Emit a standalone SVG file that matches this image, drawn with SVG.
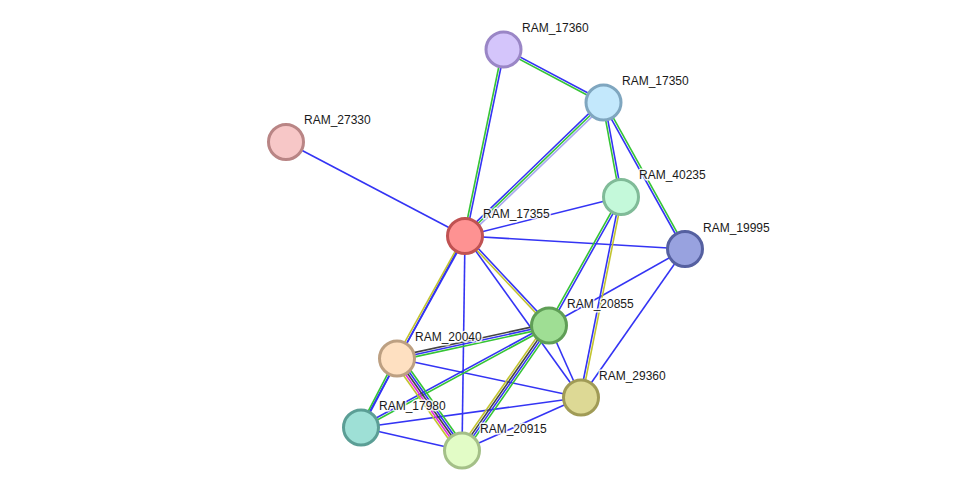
<svg xmlns="http://www.w3.org/2000/svg" width="975" height="496" viewBox="0 0 975 496">
<style>
line{stroke-width:1.6;fill:none}
.b{stroke:#3434f4}
.g{stroke:#35c435}
.o{stroke:#c2c42e}
.k{stroke:#444444}
.m{stroke:#e02ce0}
.l{stroke:#a8a8f0}
.n{stroke-width:3}
text{font-family:"Liberation Sans",Arial,sans-serif;font-size:12px;fill:#1a1a1a;stroke:#ffffff;stroke-width:3;stroke-opacity:0.85;paint-order:stroke;stroke-linejoin:round}
</style>
<rect width="975" height="496" fill="#ffffff"/>
<g id="connectors">
  <!-- single blue edges -->
  <line class="b" x1="286" y1="142" x2="465" y2="236"/>
  <line class="b" x1="465" y1="236" x2="621" y2="197"/>
  <line class="b" x1="465" y1="236" x2="685" y2="249"/>
  <line class="b" x1="465" y1="236" x2="462" y2="450.5"/>
  <line class="b" x1="465" y1="236" x2="581" y2="397.5"/>
  <line class="b" x1="465" y1="236" x2="361" y2="427.5"/>
  <line class="b" x1="685" y1="249" x2="549" y2="325.5"/>
  <line class="b" x1="685" y1="249" x2="581" y2="397.5"/>
  <line class="b" x1="549" y1="325.5" x2="581" y2="397.5"/>
  <line class="b" x1="397" y1="358.5" x2="581" y2="397.5"/>
  <line class="b" x1="361" y1="427.5" x2="581" y2="397.5"/>
  <line class="b" x1="361" y1="427.5" x2="462" y2="450.5"/>
  <line class="b" x1="462" y1="450.5" x2="581" y2="397.5"/>
  <!-- 17360-17350 -->
  <g transform="translate(503.5,49.5) rotate(27.92)">
    <line class="b" x2="113.2" y1="-1.1" y2="-1.1"/>
    <line class="g" x2="113.2" y1="1.1" y2="1.1"/>
  </g>
  <!-- 17360-17355 -->
  <g transform="translate(503.5,49.5) rotate(101.66)">
    <line class="b" x2="190.4" y1="-1.1" y2="-1.1"/>
    <line class="g" x2="190.4" y1="1.1" y2="1.1"/>
  </g>
  <!-- 17350-17355 -->
  <g transform="translate(603.5,102.5) rotate(136.05)">
    <line class="b" x2="192.4" y1="2.2" y2="2.2"/>
    <line class="g" x2="192.4" y1="0" y2="0"/>
    <line class="l" x2="192.4" y1="-2.2" y2="-2.2"/>
  </g>
  <!-- 17350-40235 -->
  <g transform="translate(603.5,102.5) rotate(79.51)">
    <line class="b" x2="96.1" y1="-1.1" y2="-1.1"/>
    <line class="g" x2="96.1" y1="1.1" y2="1.1"/>
  </g>
  <!-- 17350-19995 -->
  <g transform="translate(603.5,102.5) rotate(60.91)">
    <line class="b" x2="167.6" y1="1.1" y2="1.1"/>
    <line class="g" x2="167.6" y1="-1.1" y2="-1.1"/>
  </g>
  <!-- 17355-20040 -->
  <g transform="translate(465,236) rotate(119.03)">
    <line class="o" x2="140.1" y1="1.1" y2="1.1"/>
    <line class="b" x2="140.1" y1="-1.1" y2="-1.1"/>
  </g>
  <!-- 17355-20855 -->
  <g transform="translate(465,236) rotate(46.82)">
    <line class="b" x2="122.7" y1="-1.1" y2="-1.1"/>
    <line class="o" x2="122.7" y1="1.1" y2="1.1"/>
  </g>
  <!-- 40235-20855 -->
  <g transform="translate(621,197) rotate(119.26)">
    <line class="g" x2="147.3" y1="1.1" y2="1.1"/>
    <line class="b" x2="147.3" y1="-1.1" y2="-1.1"/>
  </g>
  <!-- 40235-29360 -->
  <g transform="translate(621,197) rotate(101.28)">
    <line class="b" x2="204.4" y1="1.1" y2="1.1"/>
    <line class="o" x2="204.4" y1="-1.1" y2="-1.1"/>
  </g>
  <!-- 20855-20040 -->
  <g transform="translate(549,325.5) rotate(167.75)">
    <line class="g" x2="155.5" y1="-2.2" y2="-2.2"/>
    <line class="b" x2="155.5" y1="0" y2="0"/>
    <line class="k" x2="155.5" y1="2.2" y2="2.2"/>
  </g>
  <!-- 20855-17980 -->
  <g transform="translate(549,325.5) rotate(151.52)">
    <line class="g" x2="213.9" y1="-1.1" y2="-1.1"/>
    <line class="b" x2="213.9" y1="1.1" y2="1.1"/>
  </g>
  <!-- 20855-20915 -->
  <g transform="translate(549,325.5) rotate(124.84)">
    <line class="o" x2="152.3" y1="3.3" y2="3.3"/>
    <line class="k" x2="152.3" y1="1.1" y2="1.1"/>
    <line class="b" x2="152.3" y1="-1.1" y2="-1.1"/>
    <line class="g" x2="152.3" y1="-3.3" y2="-3.3"/>
  </g>
  <!-- 20040-17980 -->
  <g transform="translate(397,358.5) rotate(117.55)">
    <line class="g" x2="77.8" y1="1.1" y2="1.1"/>
    <line class="b" x2="77.8" y1="-1.1" y2="-1.1"/>
  </g>
  <!-- 20040-20915 -->
  <g transform="translate(397,358.5) rotate(54.75)">
    <line class="o" x2="112.6" y1="4.4" y2="4.4"/>
    <line class="m" x2="112.6" y1="2.2" y2="2.2"/>
    <line class="k" x2="112.6" y1="0" y2="0"/>
    <line class="b" x2="112.6" y1="-2.2" y2="-2.2"/>
    <line class="g" x2="112.6" y1="-4.4" y2="-4.4"/>
  </g>
</g>
<g id="RAM_17360"><circle class="n" cx="503.5" cy="49.5" r="17.5" fill="#d4c5fb" stroke="#9a86c6"/><text x="522" y="32">RAM_17360</text></g>
<g id="RAM_17350"><circle class="n" cx="603.5" cy="102.5" r="17.5" fill="#c3e8fc" stroke="#7fa6bf"/><text x="622" y="85">RAM_17350</text></g>
<g id="RAM_27330"><circle class="n" cx="286" cy="142" r="17.5" fill="#f7c7c7" stroke="#b98585"/><text x="304" y="124">RAM_27330</text></g>
<g id="RAM_40235"><circle class="n" cx="621" cy="197" r="17.5" fill="#c4f9da" stroke="#80bb98"/><text x="639" y="179">RAM_40235</text></g>
<g id="RAM_17355"><circle class="n" cx="465" cy="236" r="17.5" fill="#fe9292" stroke="#c05252"/><text x="483" y="218">RAM_17355</text></g>
<g id="RAM_19995"><circle class="n" cx="685" cy="249" r="17.5" fill="#98a2df" stroke="#5560a0"/><text x="703" y="232">RAM_19995</text></g>
<g id="RAM_20855"><circle class="n" cx="549" cy="325.5" r="17.5" fill="#9fde94" stroke="#5f9e56"/><text x="567" y="308">RAM_20855</text></g>
<g id="RAM_20040"><circle class="n" cx="397" cy="358.5" r="17.5" fill="#fee0c1" stroke="#bda082"/><text x="415" y="341">RAM_20040</text></g>
<g id="RAM_29360"><circle class="n" cx="581" cy="397.5" r="17.5" fill="#ddd995" stroke="#a09b56"/><text x="599" y="380">RAM_29360</text></g>
<g id="RAM_17980"><circle class="n" cx="361" cy="427.5" r="17.5" fill="#9ee0d6" stroke="#5b9e95"/><text x="379" y="410">RAM_17980</text></g>
<g id="RAM_20915"><circle class="n" cx="462" cy="450.5" r="17.5" fill="#e2fcc6" stroke="#a4c088"/><text x="480" y="433">RAM_20915</text></g>
</svg>
